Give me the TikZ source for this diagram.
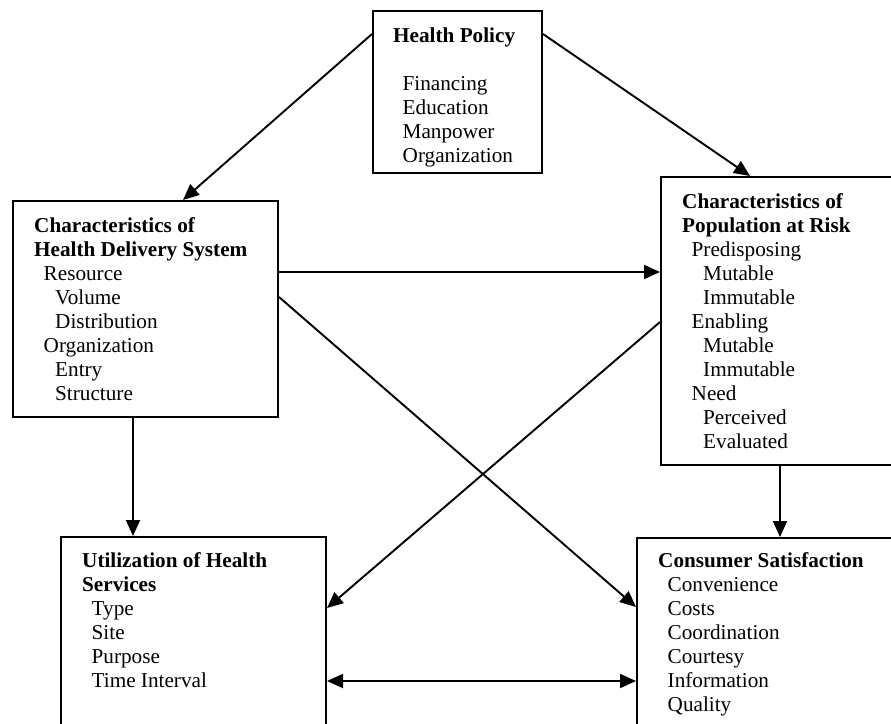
\documentclass[tikz,border=0pt]{standalone}
\usepackage{fontspec}
\setmainfont{Liberation Serif}
\usetikzlibrary{arrows.meta,calc}

\tikzset{
  box/.style={draw, line width=2pt, inner sep=0pt, anchor=north west},
  txt/.style={inner sep=0pt, anchor=base west, font=\fontsize{21.2pt}{24pt}\selectfont},
  arr/.style={line width=1.9pt, -{Triangle[length=16pt,width=14pt]}},
  arrboth/.style={line width=1.9pt, {Triangle[length=16pt,width=14pt]}-{Triangle[length=16pt,width=14pt]}},
}
\newcommand{\lvA}{\hspace*{9.5pt}}
\newcommand{\lvB}{\hspace*{21pt}}

\begin{document}
\begin{tikzpicture}[x=1pt,y=-1pt]
\useasboundingbox (0,0) rectangle (891,723);
\clip (0,0) rectangle (891,723);
\fill[white] (0,0) rectangle (891,723);

% boxes
\node[box, minimum width=169pt, minimum height=162pt] (hp)   at (372,10)  {};
\node[box, minimum width=265pt, minimum height=216pt] (hds)  at (12,200)  {};
\node[box, minimum width=250pt, minimum height=288pt] (par)  at (660,176) {};
\node[box, minimum width=265pt, minimum height=210pt] (util) at (60,536)  {};
\node[box, minimum width=270pt, minimum height=210pt] (cons) at (636,537) {};

% box contents
\node[txt] (hpt) at (393,42) {\begin{tabular}[t]{@{}l@{}}
\textbf{Health Policy}\\
\\
\lvA Financing\\
\lvA Education\\
\lvA Manpower\\
\lvA Organization
\end{tabular}};

\node[txt] (hdst) at (34,232) {\begin{tabular}[t]{@{}l@{}}
\textbf{Characteristics of}\\
\textbf{Health Delivery System}\\
\lvA Resource\\
\lvB Volume\\
\lvB Distribution\\
\lvA Organization\\
\lvB Entry\\
\lvB Structure
\end{tabular}};

\node[txt] (part) at (682,208) {\begin{tabular}[t]{@{}l@{}}
\textbf{Characteristics of}\\
\textbf{Population at Risk}\\
\lvA Predisposing\\
\lvB Mutable\\
\lvB Immutable\\
\lvA Enabling\\
\lvB Mutable\\
\lvB Immutable\\
\lvA Need\\
\lvB Perceived\\
\lvB Evaluated
\end{tabular}};

\node[txt] (utilt) at (82,567) {\begin{tabular}[t]{@{}l@{}}
\textbf{Utilization of Health}\\
\textbf{Services}\\
\lvA Type\\
\lvA Site\\
\lvA Purpose\\
\lvA Time Interval
\end{tabular}};

\node[txt] (const) at (658,567) {\begin{tabular}[t]{@{}l@{}}
\textbf{Consumer Satisfaction}\\
\lvA Convenience\\
\lvA Costs\\
\lvA Coordination\\
\lvA Courtesy\\
\lvA Information\\
\lvA Quality
\end{tabular}};

% connectors
\draw[arr] ($(hp.north west)+(0,24)$) -- ($(hds.north west)+(171,0)$);
\draw[arr] ($(hp.north east)+(0,24)$) -- ($(par.north west)+(90,0)$);
\draw[arr] ($(hds.north east)+(0,72)$) -- ($(par.north west)+(0,96)$);
\draw[arr] ($(hds.north east)+(0,97)$) -- ($(cons.north west)+(0,70)$);
\draw[arr] ($(par.north west)+(0,146)$) -- ($(util.north east)+(0,72)$);
\draw[arr] ($(hds.south west)+(121,0)$) -- ($(util.north west)+(73,0)$);
\draw[arr] ($(par.south west)+(120,0)$) -- ($(cons.north west)+(144,0)$);
\draw[arrboth] ($(util.north east)+(0,145)$) -- ($(cons.north west)+(0,144)$);
\end{tikzpicture}
\end{document}
